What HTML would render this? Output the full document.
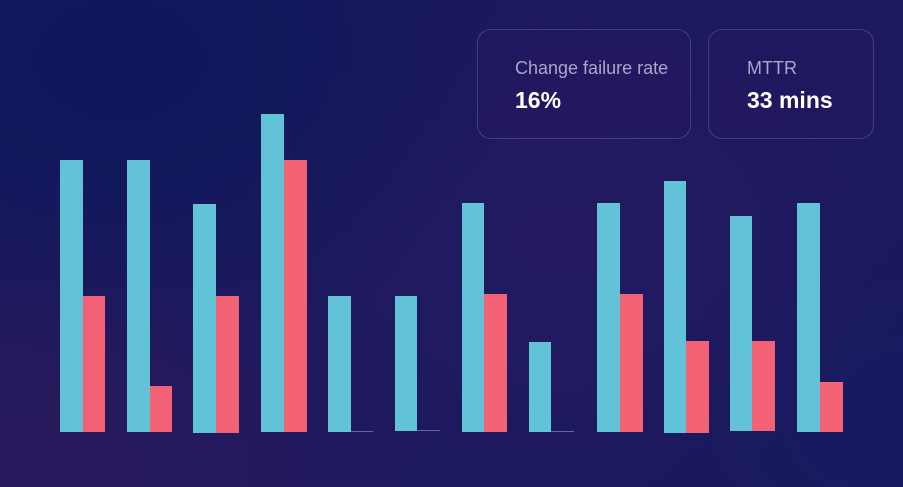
<!DOCTYPE html>
<html>
<head>
<meta charset="utf-8">
<style>
  html, body { margin:0; padding:0; }
  body {
    width:903px; height:487px; overflow:hidden; position:relative;
    background-color:#1c195d;
    background-image:
      radial-gradient(ellipse 420px 300px at 120px 60px, rgba(12,24,90,0.9), rgba(12,24,90,0) 100%),
      radial-gradient(ellipse 380px 260px at 60px 470px, rgba(42,25,92,0.95), rgba(42,25,92,0) 100%),
      radial-gradient(ellipse 360px 260px at 560px 240px, rgba(38,26,98,0.8), rgba(38,26,98,0) 100%),
      radial-gradient(ellipse 300px 240px at 880px 420px, rgba(22,26,96,0.8), rgba(22,26,96,0) 100%);
    font-family:"Liberation Sans", sans-serif;
  }
  .b { position:absolute; background:#62c3d8; }
  .r { position:absolute; background:#f26174; }
  .z { position:absolute; height:1px; background:#5a6aa8; }
  .card {
    position:absolute; top:29px; height:110px; box-sizing:border-box;
    border:1px solid rgba(200,195,240,0.22); border-radius:14px;
    background:rgba(40,24,96,0.35);
  }
  .lbl { position:absolute; font-size:18px; color:#aaa7c9; white-space:nowrap; }
  .val { position:absolute; font-size:23px; font-weight:bold; color:#ffffff; white-space:nowrap; }
</style>
</head>
<body>
  <div class="card" style="left:477px;width:214px;"></div>
  <div class="card" style="left:708px;width:166px;"></div>
  <div class="lbl" style="left:515px;top:58px;">Change failure rate</div>
  <div class="val" style="left:515px;top:87px;">16%</div>
  <div class="lbl" style="left:747px;top:58px;">MTTR</div>
  <div class="val" style="left:747px;top:87px;">33 mins</div>

  <!-- group 1 -->
  <div class="b" style="left:60px;top:160px;width:23px;height:272px;"></div>
  <div class="r" style="left:83px;top:296px;width:22px;height:136px;"></div>
  <!-- group 2 -->
  <div class="b" style="left:127px;top:160px;width:23px;height:272px;"></div>
  <div class="r" style="left:150px;top:386px;width:22px;height:46px;"></div>
  <!-- group 3 -->
  <div class="b" style="left:193px;top:204px;width:23px;height:229px;"></div>
  <div class="r" style="left:216px;top:296px;width:23px;height:137px;"></div>
  <!-- group 4 -->
  <div class="b" style="left:261px;top:114px;width:23px;height:318px;"></div>
  <div class="r" style="left:284px;top:160px;width:23px;height:272px;"></div>
  <!-- group 5 -->
  <div class="b" style="left:328px;top:296px;width:23px;height:136px;"></div>
  <div class="z" style="left:351px;top:431px;width:22px;"></div>
  <!-- group 6 -->
  <div class="b" style="left:395px;top:296px;width:22px;height:135px;"></div>
  <div class="z" style="left:417px;top:430px;width:23px;"></div>
  <!-- group 7 -->
  <div class="b" style="left:462px;top:203px;width:22px;height:229px;"></div>
  <div class="r" style="left:484px;top:294px;width:23px;height:138px;"></div>
  <!-- group 8 -->
  <div class="b" style="left:529px;top:342px;width:22px;height:90px;"></div>
  <div class="z" style="left:551px;top:431px;width:23px;"></div>
  <!-- group 9 -->
  <div class="b" style="left:597px;top:203px;width:23px;height:229px;"></div>
  <div class="r" style="left:620px;top:294px;width:23px;height:138px;"></div>
  <!-- group 10 -->
  <div class="b" style="left:664px;top:181px;width:22px;height:252px;"></div>
  <div class="r" style="left:686px;top:341px;width:23px;height:92px;"></div>
  <!-- group 11 -->
  <div class="b" style="left:730px;top:216px;width:22px;height:215px;"></div>
  <div class="r" style="left:752px;top:341px;width:23px;height:90px;"></div>
  <!-- group 12 -->
  <div class="b" style="left:797px;top:203px;width:23px;height:229px;"></div>
  <div class="r" style="left:820px;top:382px;width:23px;height:50px;"></div>
</body>
</html>
